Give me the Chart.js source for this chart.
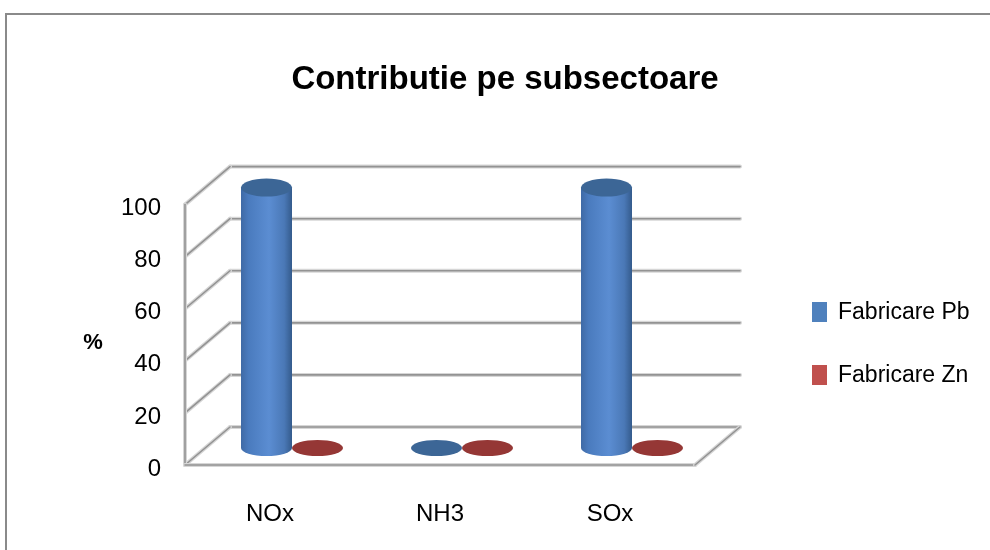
<!DOCTYPE html>
<html>
<head>
<meta charset="utf-8">
<script src="https://cdn.jsdelivr.net/npm/chart.js@4.4.1/dist/chart.umd.min.js"></script>
<style>
  html, body { margin: 0; padding: 0; background: #fff; overflow: hidden; }
  #wrap { position: relative; width: 990px; height: 550px; }
  #frame {
    position: absolute; left: 5px; top: 13px; width: 1000px; height: 600px;
    border: 2px solid #8a8a8a; pointer-events: none;
  }
</style>
</head>
<body>
<div id="wrap">
  <canvas id="myChart" width="990" height="550"></canvas>
  <div id="frame"></div>
</div>
<script>
// data
const categories = ["NOx", "NH3", "SOx"];
const seriesNames = ["Fabricare Pb", "Fabricare Zn"];
const pbValues = [100, 0, 100];
const znValues = [0, 0, 0];
const yMin = 0;
const yMax = 100;
const yStep = 20;

const colors = ["#4f81bd", "#c0504d"];
const capColors = ["#3c6696", "#953735"];
const FONT = "'Liberation Sans', Arial, sans-serif";

// depth of the back wall and of the bars (pseudo 3D)
const wallDx = 45, wallDy = -38;
const barDx = 22, barDy = -17;

function gridStroke(ctx, x1, y1, x2, y2) {
  ctx.beginPath();
  ctx.moveTo(x1, y1);
  ctx.lineTo(x2, y2);
  ctx.strokeStyle = "#d6d6d6";
  ctx.lineWidth = 4;
  ctx.stroke();
  ctx.beginPath();
  ctx.moveTo(x1, y1);
  ctx.lineTo(x2, y2);
  ctx.strokeStyle = "#939393";
  ctx.lineWidth = 1.6;
  ctx.stroke();
}

function drawCylinder(ctx, bar, dsIndex) {
  const cx = bar.x + barDx;
  const rx = bar.width / 2;
  const top = bar.y + barDy;
  const bottom = bar.base + barDy;
  const h = bottom - top;
  if (h < 2) {
    // flat disc for zero values
    ctx.beginPath();
    ctx.ellipse(cx, bottom, rx, 8, 0, 0, Math.PI * 2);
    ctx.fillStyle = capColors[dsIndex];
    ctx.fill();
    return;
  }
  const g = ctx.createLinearGradient(cx - rx, 0, cx + rx, 0);
  if (dsIndex === 0) {
    g.addColorStop(0, "#3f6aa5");
    g.addColorStop(0.15, "#4a7bbe");
    g.addColorStop(0.55, "#5b8dd2");
    g.addColorStop(0.85, "#4a78b6");
    g.addColorStop(1, "#345b8c");
  } else {
    g.addColorStop(0, "#a33f3c");
    g.addColorStop(0.55, "#c9605c");
    g.addColorStop(1, "#8e3431");
  }
  ctx.beginPath();
  ctx.moveTo(cx - rx, top);
  ctx.lineTo(cx - rx, bottom);
  ctx.ellipse(cx, bottom, rx, 8, 0, Math.PI, 0, true);
  ctx.lineTo(cx + rx, top);
  ctx.closePath();
  ctx.fillStyle = g;
  ctx.fill();
  ctx.beginPath();
  ctx.ellipse(cx, top, rx, 9, 0, 0, Math.PI * 2);
  ctx.fillStyle = capColors[dsIndex];
  ctx.fill();
}

const scene3d = {
  id: "scene3d",
  beforeDatasetsDraw(chart) {
    const ctx = chart.ctx;
    const y = chart.scales.y;
    const left = chart.chartArea.left;
    const right = chart.chartArea.right;
    ctx.save();
    ctx.lineCap = "round";
    // back wall gridlines + left wall diagonals
    for (let v = yMin; v <= yMax; v += yStep) {
      const py = y.getPixelForValue(v);
      gridStroke(ctx, left + wallDx, py + wallDy, right + wallDx, py + wallDy);
      gridStroke(ctx, left, py, left + wallDx, py + wallDy);
    }
    const y0 = y.getPixelForValue(yMin);
    const yTop = y.getPixelForValue(yMax);
    // left wall front edge and floor
    gridStroke(ctx, left, yTop, left, y0);
    gridStroke(ctx, left, y0, right, y0);
    gridStroke(ctx, right, y0, right + wallDx, y0 + wallDy);
    // cylinders
    chart.data.datasets.forEach((ds, i) => {
      const meta = chart.getDatasetMeta(i);
      meta.data.forEach((bar) => drawCylinder(ctx, bar, i));
    });
    ctx.restore();
    return false;
  },
  afterDraw(chart) {
    const ctx = chart.ctx;
    const y = chart.scales.y;
    ctx.save();
    // axis title "%"
    ctx.fillStyle = "#000";
    ctx.font = "bold 22px " + FONT;
    ctx.textAlign = "center";
    ctx.textBaseline = "middle";
    ctx.fillText("%", 93, (y.top + y.bottom) / 2 + 8);
    // legend
    ctx.font = "23px " + FONT;
    ctx.textAlign = "left";
    chart.data.datasets.forEach((ds, i) => {
      const cy = 312 + i * 63;
      ctx.fillStyle = colors[i];
      ctx.fillRect(812, cy - 10, 15, 20);
      ctx.fillStyle = "#000";
      ctx.fillText(ds.label, 838, cy + 1);
    });
    ctx.restore();
  }
};

const ctx = document.getElementById("myChart").getContext("2d");
const myChart = new Chart(ctx, {
  type: "bar",
  data: {
    labels: categories,
    datasets: [
      { label: seriesNames[0], data: pbValues, backgroundColor: colors[0] },
      { label: seriesNames[1], data: znValues, backgroundColor: colors[1] }
    ]
  },
  options: {
    responsive: false,
    animation: false,
    categoryPercentage: 0.6,
    barPercentage: 1.0,
    layout: { padding: { left: 20, right: 0, top: 0, bottom: 0 } },
    plugins: {
      legend: { display: false },
      tooltip: { enabled: false },
      title: {
        display: true,
        text: "Contributie pe subsectoare",
        color: "#000",
        font: { family: FONT, size: 33, weight: "bold" },
        padding: { top: 60, bottom: 105 }
      }
    },
    scales: {
      x: {
        grid: { display: false, drawTicks: false },
        border: { display: false },
        ticks: { color: "#000", font: { family: FONT, size: 24 }, padding: 35 },
        afterFit: (s) => { s.height = 85; }
      },
      y: {
        min: yMin,
        max: yMax,
        grid: { display: false, drawTicks: false },
        border: { display: false },
        ticks: { stepSize: yStep, color: "#000", font: { family: FONT, size: 24 }, padding: 24, labelOffset: 4 },
        afterFit: (s) => { s.width = 165; }
      },
      yR: {
        position: "right",
        grid: { display: false, drawTicks: false },
        border: { display: false },
        ticks: { display: false },
        afterFit: (s) => { s.width = 295; }
      }
    }
  },
  plugins: [scene3d]
});
</script>
</body>
</html>
